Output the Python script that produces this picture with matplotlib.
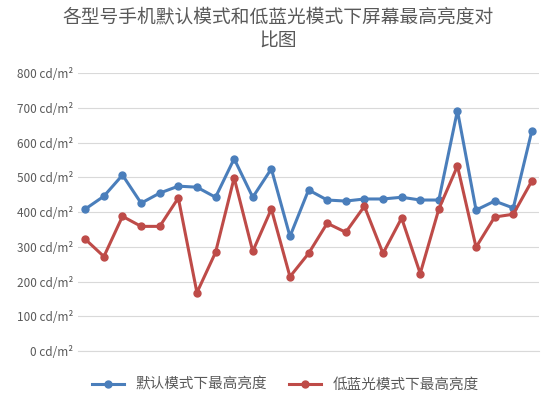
import matplotlib.pyplot as plt

plt.rcParams['font.family'] = ['Noto Sans CJK SC', 'DejaVu Sans']

# 默认模式 / 低蓝光模式 亮度 (cd/m²)
default_mode = [409, 446, 507, 426, 455, 475, 472, 443, 554, 443, 525, 330, 464,
                435, 432, 438, 438, 443, 435, 435, 693, 406, 432, 412, 635]
low_blue = [322, 272, 388, 359, 359, 441, 168, 284, 499, 287, 409, 214, 281,
            368, 342, 417, 281, 383, 223, 409, 533, 299, 386, 394, 490]
x = list(range(len(default_mode)))

fig = plt.figure(figsize=(5.56, 4.08), dpi=100)
ax = fig.add_axes([0.14, 0.14, 0.83, 0.68])
ax.plot(x, default_mode, color='#4a7ebb', lw=2.2, marker='o', ms=5, label='默认模式下最高亮度')
ax.plot(x, low_blue, color='#be4b48', lw=2.2, marker='o', ms=5, label='低蓝光模式下最高亮度')

ax.set_ylim(0, 800)
ax.set_xlim(-0.4, len(x) - 0.6)
ax.set_yticks(range(0, 801, 100))
ax.set_yticklabels([f'{v} cd/m²' for v in range(0, 801, 100)], fontsize=8.5, color='#595959')
ax.set_xticks([])
ax.grid(axis='y', color='#d9d9d9', lw=0.8)
ax.set_axisbelow(True)
for s in ['top', 'right', 'left']:
    ax.spines[s].set_visible(False)
ax.spines['bottom'].set_color('#d9d9d9')
ax.tick_params(axis='y', length=0)

fig.suptitle('各型号手机默认模式和低蓝光模式下屏幕最高亮度对\n比图', fontsize=13.5,
             color='#595959', y=0.985)
ax.legend(loc='upper center', bbox_to_anchor=(0.45, -0.05), ncol=2, frameon=False,
          fontsize=10.5, labelcolor='#595959', handlelength=2.2, columnspacing=1.5)

fig.savefig('out.png')
